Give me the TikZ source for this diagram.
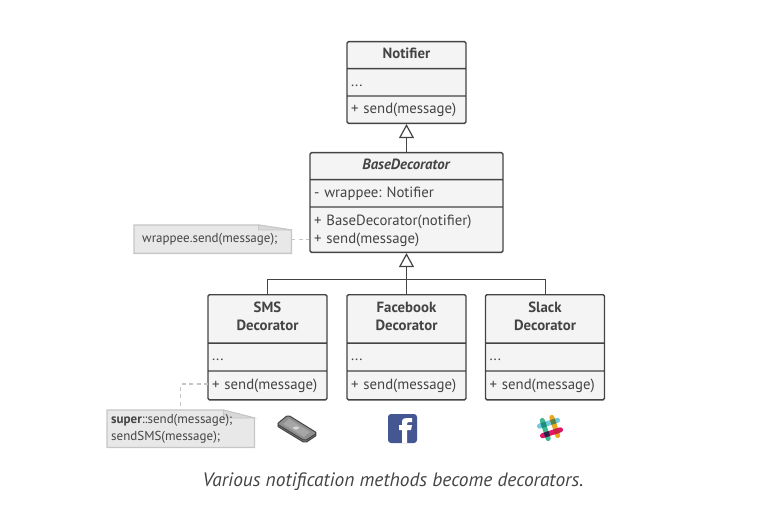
\documentclass[tikz,border=0pt]{standalone}
\usepackage{fontspec}
\setmainfont{PT Sans}
\usetikzlibrary{shapes,shapes.multipart,calc,arrows.meta,backgrounds}
\definecolor{inkc}{HTML}{444444}
\definecolor{boxc}{HTML}{F4F4F4}
\definecolor{notec}{HTML}{E8E8E8}
\definecolor{noteline}{HTML}{C6C6C6}
\definecolor{notefold}{HTML}{D8D8D8}
\definecolor{fbblue}{HTML}{455792}
\definecolor{slackteal}{HTML}{70CADB}
\definecolor{slackgreen}{HTML}{3EB890}
\definecolor{slackyellow}{HTML}{E9A820}
\definecolor{slackred}{HTML}{E01765}
\definecolor{slacktg}{HTML}{1E8C7D}
\definecolor{slackty}{HTML}{5A8246}
\definecolor{slackrg}{HTML}{321E46}
\definecolor{slackry}{HTML}{CD1E46}
\newcommand{\rt}{\rule{0pt}{17pt}}
\newcommand{\rb}{\rule[-9pt]{0pt}{9pt}}
\newcommand{\classtitle}[1]{{\centering\rule{0pt}{16pt}\textbf{#1}\rule[-9.5pt]{0pt}{9.5pt}\par}}
\newcommand{\decobody}[1]{{\centering\rt\textbf{#1}\\\textbf{Decorator}\rule[-11.5pt]{0pt}{11.5pt}\par}
  \nodepart{two}\rt...\rule[-9.5pt]{0pt}{9.5pt}\nodepart{three}\rule{0pt}{18pt}+ send(message)\rule[-9.5pt]{0pt}{9.5pt}}
\tikzset{
  classbox/.style = {rectangle split, rectangle split parts=3, draw=inkc, fill=boxc, line width=1.4pt,
    rounded corners=1.5pt, anchor=north, inner xsep=4pt, inner ysep=0pt, text=inkc, align=left,
    font=\fontsize{14.8}{18.5}\selectfont\frenchspacing},
  inherit/.style = {draw=inkc, line width=1pt},
  hollow/.style = {inherit, -{Triangle[open, fill=white, length=14pt, width=15pt, line width=1.2pt]}},
  notebox/.style = {rectangle, inner sep=0pt, anchor=north west, text=inkc, align=left,
    font=\fontsize{13}{17}\selectfont},
  noteedge/.style = {draw=noteline, fill=notec, line width=1.3pt},
  foldedge/.style = {draw=noteline, fill=notefold, line width=.8pt},
  notelink/.style = {draw=noteline, line width=1.1pt, dash pattern=on 4pt off 3.5pt}
}
\begin{document}
\begin{tikzpicture}[x=1pt,y=-1pt]
\useasboundingbox (0,0) rectangle (784,521);

\node [classbox, text width=111pt] (notifier) at (406.5,41)
  {\classtitle{Notifier}\nodepart{two}\rt...\rb\nodepart{three}\rt+ send(message)\rb};
\node [classbox, text width=185pt] (base) at (406.5,152)
  {\classtitle{\textit{BaseDecorator}}\nodepart{two}\rt- wrappee: Notifier\rb
   \nodepart{three}\rule{0pt}{17.5pt}+ BaseDecorator(notifier)\\+ send(message)\rule[-8pt]{0pt}{8pt}};
\node [classbox, text width=111pt] (sms) at (267.5,294) {\decobody{SMS}};
\node [classbox, text width=111pt] (facebook) at (406.5,294) {\decobody{Facebook}};
\node [classbox, text width=111pt] (slack) at (545,294) {\decobody{Slack}};

% inheritance
\coordinate (hub) at (406.5,280);
\draw [hollow] (base.north) -- (notifier.south);
\draw [inherit] (sms.north) |- (hub);
\draw [inherit] (slack.north) |- (hub);
\draw [inherit] (facebook.north) -- (hub);
\draw [hollow] (hub) -- (base.south);

% notes
\node [notebox, minimum width=157pt, minimum height=28pt, text width=143pt] (wrapnote) at (134,225)
  {\hspace*{1pt}wrappee.send(message);};
\node [notebox, minimum width=147pt, minimum height=37pt, text width=140pt] (supernote) at (107,410)
  {\hspace*{.5pt}\textbf{super}::send(message);\\\hspace*{.5pt}sendSMS(message);};
\begin{scope}[on background layer]
\draw [noteedge] (wrapnote.south west) -- (wrapnote.north west) -- ($(wrapnote.north east)+(-33,0)$)
  -- ($(wrapnote.north east)+(0,5)$) -- (wrapnote.south east) -- cycle;
\draw [foldedge] ($(wrapnote.north east)+(-33,0)$) -- ($(wrapnote.north east)+(-33,5)$)
  -- ($(wrapnote.north east)+(0,5)$) -- cycle;
\draw [noteedge] (supernote.south west) -- (supernote.north west) -- ($(supernote.north east)+(-31,0)$)
  -- ($(supernote.north east)+(0,8)$) -- (supernote.south east) -- cycle;
\draw [foldedge] ($(supernote.north east)+(-31,0)$) -- ($(supernote.north east)+(-31,8)$)
  -- ($(supernote.north east)+(0,8)$) -- cycle;
\end{scope}
\coordinate (basesend) at (base.west |- wrapnote.east);
\coordinate (smssend) at (208,384);
\draw [notelink] (wrapnote.east) -- (basesend);
\draw [notelink] (smssend) -| (supernote.north);

% phone
\draw [draw=inkc, fill=inkc!70, line width=1pt, rounded corners=2pt]
  (277,426) -- (288,417) -- (317,435) -- (305,443) -- cycle;
\draw [draw=inkc, fill=inkc!60, line width=1pt, rounded corners=2pt]
  (277,424) -- (288,415) -- (317,433) -- (305,441) -- cycle;
\fill [fill=black!35] (283,424) -- (289,419) -- (310,432) -- (304,437) -- cycle;
\fill [white!85!black] (296,428) ellipse (3pt and 1.5pt);

% facebook
\fill [fbblue, rounded corners=3pt] (388,414) rectangle (417,443);
\fill [white] (402,443) -- (402,430) -- (399,430) -- (399,425) -- (402,425) -- (402,422)
  .. controls (402,418) and (405,418) .. (408,418) -- (412,418) -- (412,422) -- (409,422)
  .. controls (407.5,422) and (407,423) .. (407,424) -- (407,425) -- (412,425) -- (411,430)
  -- (407,430) -- (407,443) -- cycle;

% slack
\begin{scope}[shift={(550,428)}, rotate=18, line cap=round, line width=5pt]
\draw [slackteal] (-9.5,-5) -- (9.5,-5);
\draw [slackgreen] (-5,-9.5) -- (-5,9.5);
\draw [slackyellow] (5,-9.5) -- (5,9.5);
\draw [slackred] (-9.5,5) -- (9.5,5);
\fill [slacktg] (-7.5,-7.5) rectangle (-2.5,-2.5);
\fill [slackty] (2.5,-7.5) rectangle (7.5,-2.5);
\fill [slackrg] (-7.5,2.5) rectangle (-2.5,7.5);
\fill [slackry] (2.5,2.5) rectangle (7.5,7.5);
\end{scope}

\node [text=inkc, font=\fontsize{19.4}{22}\selectfont\itshape] (caption) at (393,482)
  {Various notification methods become decorators.};
\end{tikzpicture}
\end{document}
